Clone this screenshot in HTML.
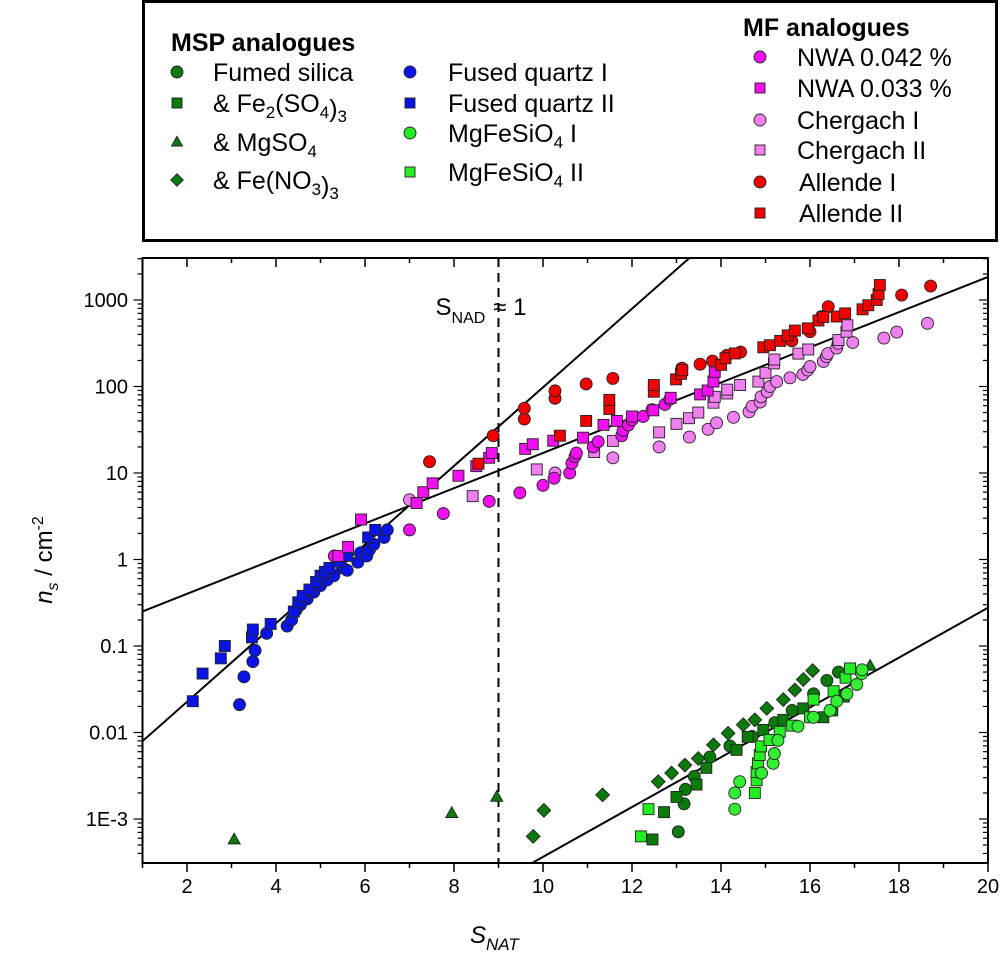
<!DOCTYPE html>
<html><head><meta charset="utf-8"><style>
html,body{margin:0;padding:0;background:#fff;overflow:hidden;width:1001px;height:967px;}
svg{display:block;font-family:"Liberation Sans",Arial,sans-serif;}
</style></head><body>
<svg id="chart" width="1001" height="967" viewBox="0 0 1001 967" xmlns="http://www.w3.org/2000/svg">
<defs><clipPath id="plotclip"><rect x="142.5" y="258" width="845.5" height="605"/></clipPath></defs>
<g id="legend">
<rect x="143.5" y="1.5" width="853" height="239" fill="#fff" stroke="#000" stroke-width="3"/>
<text x="171" y="51" font-size="25" font-weight="bold">MSP analogues</text>
<text x="743" y="36" font-size="25" font-weight="bold">MF analogues</text>
</g>
<g id="plot"></g>
</svg>
<script>
// ---- data ----
const xTicks = [2,4,6,8,10,12,14,16,18,20];
const yTicks = [1000,100,10,1,0.1,0.01,0.001];
const yTickLabels = ["1000","100","10","1","0.1","0.01","1E-3"];
const fusedQuartzI_S = [3.18,3.28,3.48,3.53,3.79,4.25,4.35,4.45,4.55,4.7,4.85,5.0,5.15,5.3,5.5,5.6,5.84,5.9,6.04,6.1,6.2,6.43,6.5];
const fusedQuartzI_n = [0.021,0.044,0.066,0.089,0.14,0.17,0.2,0.26,0.3,0.35,0.42,0.5,0.58,0.65,0.8,0.75,0.93,1.2,1.1,1.3,1.5,1.8,2.2];
const fusedQuartzII_S = [2.13,2.35,2.76,2.85,3.46,3.48,3.88,4.4,4.5,4.6,4.75,4.9,5.0,5.1,5.2,5.4,5.6,6.07,6.23];
const fusedQuartzII_n = [0.023,0.048,0.072,0.1,0.126,0.155,0.18,0.25,0.32,0.38,0.45,0.55,0.65,0.72,0.8,0.95,1.1,1.8,2.2];
const nwa042_S = [5.31,7.0,7.76,8.79,9.48,10.0,10.25,10.6,10.65,10.72,10.75,11.13,11.24,11.77,11.8,11.92,12.0,12.25,12.45,12.74,12.85];
const nwa042_n = [1.1,2.2,3.4,4.7,5.9,7.2,8.7,10,13,15.5,17,20,23,27,31,36,41,45,54,62,71];
const nwa033_S = [5.4,5.62,5.91,7.16,7.31,7.52,8.1,8.5,8.79,8.85,9.6,9.77,10.23,10.9,11.36,11.66,12.0,12.48,12.87,13.53,13.7,13.83,13.86];
const nwa033_n = [1.1,1.4,2.9,4.5,6,7.6,9.3,12,15,17,19,21.5,23.6,25.6,36,40,45,53,74,81,90,114,148];
const chergachI_S = [7.0,10.27,11.57,12.61,13.29,13.71,13.9,14.28,14.63,14.7,14.88,14.9,15.04,15.1,15.25,15.55,15.84,15.95,16.0,16.3,16.37,16.4,16.6,16.63,16.96,17.66,17.95,18.64];
const chergachI_n = [4.9,10,15,20,26,32,38,44,51,59,66,76,87,100,114,126,138,155,170,195,222,240,278,316,323,363,426,537];
const chergachII_S = [8.42,9.86,11.15,11.57,12.61,13.0,13.28,13.49,13.83,13.86,14.14,14.14,14.43,14.84,15.0,15.19,15.2,15.74,15.96,16.64,16.82,16.84];
const chergachII_n = [5.4,11,17.5,23.5,29.5,37,43,50,65,76,83,92,104,114,144,185,205,240,268,345,430,510];
const allendeI_S = [7.45,8.88,9.58,9.58,10.27,10.27,10.97,11.57,13.12,13.53,13.81,14.13,14.44,15.59,16.0,16.26,16.41,18.06,18.71];
const allendeI_n = [13.5,27,42,56,73,89,107,124,163,181,197,229,250,337,430,644,836,1140,1450];
const allendeII_S = [8.55,10.38,10.97,11.49,11.49,12.49,12.49,12.99,13.1,13.13,14.0,14.1,14.31,14.95,15.1,15.33,15.5,15.66,15.95,16.19,16.3,16.6,16.79,17.18,17.31,17.5,17.54,17.57];
const allendeII_n = [12.8,27,40,55,70,87,104,121,140,154,178,212,241,284,300,337,390,443,470,579,636,644,700,780,870,1000,1170,1490];
const mgso4_S = [3.06,7.95,8.96,17.35];
const mgso4_n = [0.00058,0.00117,0.0018,0.059];
const feno3_S = [9.78,10.02,11.34,12.59,12.89,13.19,13.49,13.83,14.16,14.5,14.76,15.03,15.4,15.66,15.85,16.06];
const feno3_n = [0.00063,0.00126,0.0019,0.0027,0.0034,0.0042,0.005,0.0072,0.0098,0.0123,0.014,0.019,0.024,0.031,0.041,0.052];
const fumed_S = [13.04,13.17,13.2,13.4,13.75,14.2,14.7,15.21,15.6,16.08,16.38,16.64];
const fumed_n = [0.00071,0.0015,0.0022,0.0031,0.0052,0.007,0.009,0.013,0.018,0.028,0.04,0.05];
const fe2so4_S = [12.46,12.72,13.0,13.45,13.67,14.35,14.6,14.95,15.4,15.85,16.3,16.5,16.76,16.9];
const fe2so4_n = [0.00058,0.0012,0.0018,0.0025,0.0039,0.0063,0.0089,0.0107,0.014,0.019,0.015,0.018,0.026,0.055];
const mgfeI_S = [14.31,14.31,14.42,14.91,15.17,15.2,15.28,15.73,16.08,16.45,16.6,16.83,17.05,17.16,17.17];
const mgfeI_n = [0.0013,0.002,0.0027,0.0034,0.0044,0.0057,0.0081,0.0118,0.015,0.018,0.023,0.028,0.036,0.048,0.053];
const mgfeII_S = [12.2,12.37,14.76,14.8,14.8,14.83,14.87,14.9,15.09,15.32,15.6,16.0,16.08,16.53,16.8,16.9];
const mgfeII_n = [0.00063,0.0013,0.002,0.0028,0.0035,0.0044,0.0055,0.0069,0.0082,0.0102,0.012,0.015,0.024,0.03,0.043,0.055];
// fit lines: log10(n) = a + b*(S - s0)
const fitA = [-2.1,-0.6,-3.51];
const fitB = [0.4545,0.2035,0.288];
const fitS0 = [1,1,9.75];
const nadThreshold = 9;

// ---- axes ----
const X0=142.5, X1=988, Y0=258, Y1=863;
function sx(s){return X0+(s-1)*44.5;}
function sy(v){return 300-(Math.log10(v)-3)*86.5;}
function syLog(l){return 300-(l-3)*86.5;}
const NS="http://www.w3.org/2000/svg";
const svg=document.getElementById('chart');
const plot=document.getElementById('plot');
function el(tag,attrs,parent){const e=document.createElementNS(NS,tag);for(const k in attrs)e.setAttribute(k,attrs[k]);(parent||plot).appendChild(e);return e;}

// fit lines
const fitG=el('g',{'clip-path':'url(#plotclip)'});


for(let i=0;i<fitA.length;i++){
  const sa=1, sb=20;
  const l=el('line',{x1:sx(sa),y1:syLog(fitA[i]+fitB[i]*(sa-fitS0[i])),x2:sx(sb),y2:syLog(fitA[i]+fitB[i]*(sb-fitS0[i])),stroke:'#000','stroke-width':2},fitG);
  
  
}
// dashed threshold
const dl=el('line',{x1:sx(nadThreshold),y1:Y0,x2:sx(nadThreshold),y2:Y1,stroke:'#000','stroke-width':2,'stroke-dasharray':'9,6'});


const nt=el('text',{x:sx(nadThreshold)-63,y:315,'font-size':24});
nt.innerHTML='S<tspan font-size="16" dy="8">NAD</tspan><tspan dy="-8" dx="8">≈ 1</tspan>';



// markers
function marker(g,shape,x,y,fill,size){
  let m;
  const st={fill:fill,stroke:'#222','stroke-width':0.9};
  if(shape==='c'){m=el('circle',Object.assign({cx:x,cy:y,r:size},st),g);}
  else if(shape==='s'){m=el('rect',Object.assign({x:x-size,y:y-size,width:2*size,height:2*size},st),g);}
  else if(shape==='t'){m=el('polygon',Object.assign({points:`${x},${y-size*1.15} ${x-size*1.1},${y+size*0.8} ${x+size*1.1},${y+size*0.8}`},st),g);}
  else {m=el('polygon',Object.assign({points:`${x},${y-size*1.25} ${x+size*1.25},${y} ${x},${y+size*1.25} ${x-size*1.25},${y}`},st),g);}
  return m;
}
const series=[
 ['fumed-silica',fumed_S,fumed_n,'c','#0a7a0a'],
 ['fe2so4',fe2so4_S,fe2so4_n,'s','#0a7a0a'],
 ['mgso4',mgso4_S,mgso4_n,'t','#0a7a0a'],
 ['feno3',feno3_S,feno3_n,'d','#0a7a0a'],
 ['mgfesio4-ii',mgfeII_S,mgfeII_n,'s','#22ee22'],
 ['mgfesio4-i',mgfeI_S,mgfeI_n,'c','#33ee33'],
 ['fused-quartz-i',fusedQuartzI_S,fusedQuartzI_n,'c','#0a14e6'],
 ['fused-quartz-ii',fusedQuartzII_S,fusedQuartzII_n,'s','#0a14e6'],
 ['chergach-i',chergachI_S,chergachI_n,'c','#f080f0'],
 ['chergach-ii',chergachII_S,chergachII_n,'s','#f080f0'],
 ['nwa-042',nwa042_S,nwa042_n,'c','#f010f0'],
 ['nwa-033',nwa033_S,nwa033_n,'s','#f010f0'],
 ['allende-i',allendeI_S,allendeI_n,'c','#f00000'],
 ['allende-ii',allendeII_S,allendeII_n,'s','#f00000'],
];
for(const [name,S,N,shape,col] of series){
  const g=el('g',{});
  
  
  for(let i=0;i<S.length;i++){
    const m=marker(g,shape,sx(S[i]),sy(N[i]),col,shape==='c'?6:5.5);
    
    
  }
}

// frame
const fr=el('rect',{x:X0,y:Y0,width:X1-X0,height:Y1-Y0,fill:'none',stroke:'#000','stroke-width':2});


// x ticks
const xg=el('g',{});


for(let s=1;s<=20;s++){
  const major=xTicks.includes(s);
  const L=major?9:5;
  el('line',{x1:sx(s),y1:Y1,x2:sx(s),y2:Y1+L,stroke:'#000','stroke-width':1.5},xg);
  el('line',{x1:sx(s),y1:Y0,x2:sx(s),y2:Y0+L,stroke:'#000','stroke-width':1.5},xg);
}
for(const t of xTicks){
  const tx=el('text',{x:sx(t),y:893,'font-size':20,'text-anchor':'middle'},xg);
  tx.textContent=t;
  
  
}
const xt=el('text',{x:470,y:943,'font-size':24,'font-style':'italic'});
xt.innerHTML='S<tspan font-size="17" dy="7">NAT</tspan>';


// y ticks
const yg=el('g',{});


for(let d=-4;d<=3;d++){
  for(let k=1;k<10;k++){
    const v=k*Math.pow(10,d); const y=sy(v);
    if(y<Y0||y>Y1) continue;
    const L=k===1?9:5;
    el('line',{x1:X0-L,y1:y,x2:X0,y2:y,stroke:'#000','stroke-width':1.2},yg);
    el('line',{x1:X1-L,y1:y,x2:X1,y2:y,stroke:'#000','stroke-width':1.2},yg);
  }
}
for(let i=0;i<yTicks.length;i++){
  const ty=el('text',{x:128,y:sy(yTicks[i])+7,'font-size':20,'text-anchor':'end'},yg);
  ty.textContent=yTickLabels[i];
  
  
}
const yt=el('text',{x:0,y:0,'font-size':24,transform:'translate(52,560) rotate(-90)','text-anchor':'middle'});
yt.innerHTML='<tspan font-style="italic">n</tspan><tspan font-size="16" font-style="italic" dy="6">s</tspan><tspan dy="-6"> / cm</tspan><tspan font-size="16" dy="-9">-2</tspan>';



// legend entries
const leg=document.getElementById('legend');
const legEntries=[
 [177,72,'c','#0a7a0a','Fumed silica',213],
 [177,103,'s','#0a7a0a','&amp; Fe<tspan font-size="17" dy="6">2</tspan><tspan dy="-6">(SO</tspan><tspan font-size="17" dy="6">4</tspan><tspan dy="-1">)</tspan><tspan font-size="17" dy="5">3</tspan>',213],
 [177,142,'t','#0a7a0a','&amp; MgSO<tspan font-size="17" dy="6">4</tspan>',213],
 [177,180,'d','#0a7a0a','&amp; Fe(NO<tspan font-size="17" dy="6">3</tspan><tspan dy="-1">)</tspan><tspan font-size="17" dy="5">3</tspan>',213],
 [410,72,'c','#0a14e6','Fused quartz I',448],
 [410,103,'s','#0a14e6','Fused quartz II',448],
 [410,133,'c','#22ee22','MgFeSiO<tspan font-size="17" dy="6">4</tspan><tspan dy="-6"> I</tspan>',448],
 [410,172,'s','#22ee22','MgFeSiO<tspan font-size="17" dy="6">4</tspan><tspan dy="-6"> II</tspan>',448],
 [760,57,'c','#f010f0','NWA 0.042 %',797],
 [760,88,'s','#f010f0','NWA 0.033 %',797],
 [760,120,'c','#f080f0','Chergach I',797],
 [760,150,'s','#f080f0','Chergach II',797],
 [760,182,'c','#f00000','Allende I',799],
 [760,213,'s','#f00000','Allende II',799],
];
for(const [mx,my,sh,col,label,tx] of legEntries){
  const g=el('g',{},leg);
  
  
  marker(g,sh,mx,my,col,sh==='c'?6:5);
  const t=el('text',{x:tx,y:my+9,'font-size':25},g);
  t.innerHTML=label;
}
</script>
</body></html>
